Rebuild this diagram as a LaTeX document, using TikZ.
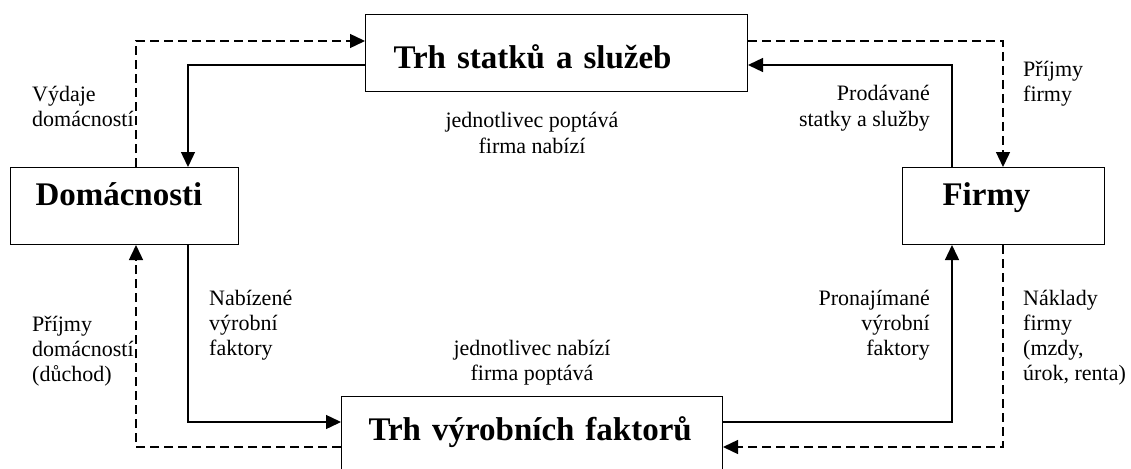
\documentclass[tikz,border=0pt]{standalone}
\usepackage{fontspec}
\setmainfont{Liberation Serif}
\usepackage{tikz}
\usetikzlibrary{arrows.meta,positioning}
\tikzstyle{block}=[draw, rectangle, line width=1pt, inner ysep=0pt, align=left, anchor=north west, font=\fontsize{33}{38}\selectfont\bfseries]
\tikzstyle{note}=[inner sep=0pt, font=\fontsize{22}{25}\selectfont]
\tikzstyle{flow}=[line width=1.4pt, ->]
\tikzstyle{cash}=[line width=1.4pt, ->, dash pattern=on 9pt off 5pt]

\begin{document}
\begin{tikzpicture}[x=1pt, y=-1pt, >={Triangle[length=15pt,width=14pt]}]
    \useasboundingbox (0,0) rectangle (1131,468);
    % markets and sectors
    \node [block, text width=326pt, inner xsep=28pt, text height=54pt, text depth=23pt] (goods) at (365,14) {Trh statků a služeb};
    \node [block, text width=178pt, inner xsep=25pt, text height=38pt, text depth=39pt] (home) at (10,167) {Domácnosti};
    \node [block, text width=122pt, inner xsep=40pt, text height=38pt, text depth=39pt] (firms) at (902,167) {Firmy};
    \node [block, text width=327pt, inner xsep=27pt, text height=44pt, text depth=33pt] (factors) at (341,396) {Trh výrobních faktorů};
    % corners of the flows
    \coordinate (c1) at (136,41);
    \coordinate (c2) at (188,65);
    \coordinate (c3) at (952,65);
    \coordinate (c4) at (1003,41);
    \coordinate (c5) at (188,422);
    \coordinate (c6) at (136,447);
    \coordinate (c7) at (952,422);
    \coordinate (c8) at (1003,447);
    \draw[cash] (home.north -| c1) |- (goods.west |- c1);
    \draw[flow] (goods.west |- c2) -| (home.north -| c2);
    \draw[flow] (firms.north -| c3) |- (goods.east |- c3);
    \draw[cash] (goods.east |- c4) -| (firms.north -| c4);
    \draw[flow] (home.south -| c5) |- (factors.west |- c5);
    \draw[cash] (factors.west |- c6) -| (home.south -| c6);
    \draw[flow] (factors.east |- c7) -| (firms.south -| c7);
    \draw[cash] (firms.south -| c8) |- (factors.east |- c8);
    % labels (anchored at the baseline of the last line)
    \node [note, anchor=base west, align=left] (spend) at (32,127) {Výdaje\\domácností};
    \node [note, anchor=base, align=center] (goodsdemand) at (532,153) {jednotlivec poptává\\firma nabízí};
    \node [note, anchor=base east, align=right] (sold) at (930,126) {Prodávané\\statky a služby};
    \node [note, anchor=base west, align=left] (revenue) at (1023,102) {Příjmy\\firmy};
    \node [note, anchor=base west, align=left] (offered) at (209,355) {Nabízené\\výrobní\\faktory};
    \node [note, anchor=base west, align=left] (income) at (32,381) {Příjmy\\domácností\\(důchod)};
    \node [note, anchor=base, align=center] (factordemand) at (532,380) {jednotlivec nabízí\\firma poptává};
    \node [note, anchor=base east, align=right] (hired) at (930,355) {Pronajímané\\výrobní\\faktory};
    \node [note, anchor=base west, align=left] (costs) at (1023,380) {Náklady\\firmy\\(mzdy,\\úrok, renta)};
\end{tikzpicture}
\end{document}
